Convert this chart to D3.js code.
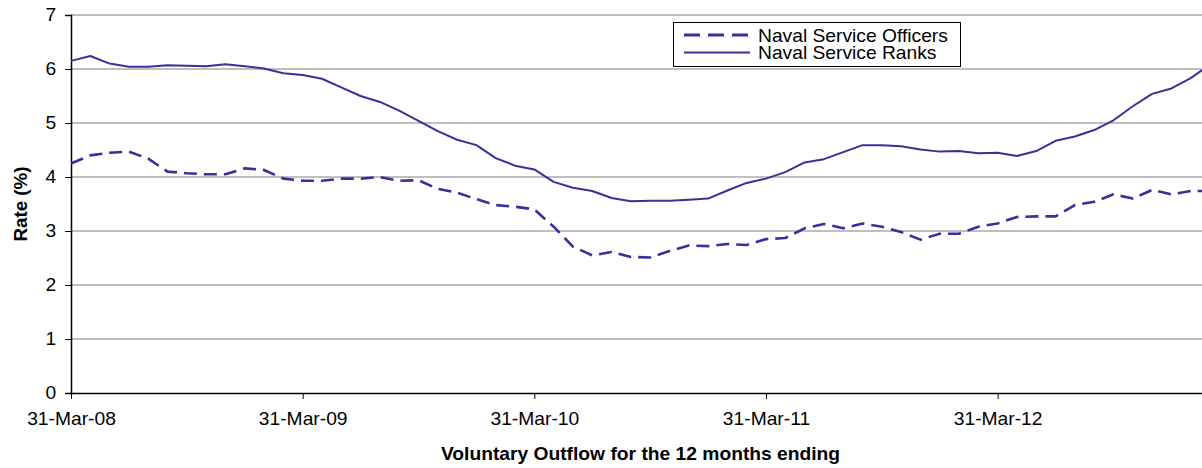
<!DOCTYPE html>
<html>
<head>
<meta charset="utf-8">
<script src="https://cdn.jsdelivr.net/npm/d3@7"></script>
<style>
  body { margin: 0; background: #fff; }
  svg { display: block; font-family: Arial, "Liberation Sans", sans-serif; }
</style>
</head>
<body>
<svg id="chart" width="1202" height="468"></svg>
<script>
// mois (fin de mois), 12 mois glissants
const months = [
  "31-Mar-08","30-Apr-08","31-May-08","30-Jun-08","31-Jul-08","31-Aug-08","30-Sep-08","31-Oct-08","30-Nov-08","31-Dec-08","31-Jan-09","28-Feb-09",
  "31-Mar-09","30-Apr-09","31-May-09","30-Jun-09","31-Jul-09","31-Aug-09","30-Sep-09","31-Oct-09","30-Nov-09","31-Dec-09","31-Jan-10","28-Feb-10",
  "31-Mar-10","30-Apr-10","31-May-10","30-Jun-10","31-Jul-10","31-Aug-10","30-Sep-10","31-Oct-10","30-Nov-10","31-Dec-10","31-Jan-11","28-Feb-11",
  "31-Mar-11","30-Apr-11","31-May-11","30-Jun-11","31-Jul-11","31-Aug-11","30-Sep-11","31-Oct-11","30-Nov-11","31-Dec-11","31-Jan-12","29-Feb-12",
  "31-Mar-12","30-Apr-12","31-May-12","30-Jun-12","31-Jul-12","31-Aug-12","30-Sep-12","31-Oct-12","30-Nov-12","31-Dec-12","31-Jan-13","28-Feb-13"
];

const officers = [
  4.25, 4.40, 4.45, 4.47, 4.34, 4.10, 4.07, 4.05, 4.05, 4.16, 4.13, 3.97,
  3.93, 3.93, 3.97, 3.97, 4.00, 3.93, 3.94, 3.78, 3.71, 3.59, 3.48, 3.45,
  3.40, 3.08, 2.71, 2.55, 2.61, 2.52, 2.51, 2.63, 2.73, 2.72, 2.76, 2.74,
  2.85, 2.87, 3.05, 3.13, 3.05, 3.14, 3.08, 2.98, 2.84, 2.95, 2.95, 3.08,
  3.14, 3.26, 3.27, 3.27, 3.48, 3.54, 3.68, 3.60, 3.76, 3.68, 3.74, 3.74
];

const ranks = [
  6.15, 6.24, 6.10, 6.04, 6.04, 6.07, 6.06, 6.05, 6.09, 6.05, 6.01, 5.92,
  5.89, 5.82, 5.66, 5.50, 5.39, 5.23, 5.04, 4.85, 4.69, 4.59, 4.35, 4.21,
  4.14, 3.91, 3.80, 3.74, 3.61, 3.55, 3.56, 3.56, 3.58, 3.60, 3.75, 3.89,
  3.97, 4.09, 4.27, 4.33, 4.46, 4.59, 4.59, 4.57, 4.51, 4.47, 4.48, 4.44,
  4.45, 4.39, 4.48, 4.67, 4.75, 4.87, 5.05, 5.31, 5.54, 5.64, 5.83, 6.08
];

const tickLabels = ["31-Mar-08", "31-Mar-09", "31-Mar-10", "31-Mar-11", "31-Mar-12"];
const yTicks = [0, 1, 2, 3, 4, 5, 6, 7];

const series = [
  { name: "Naval Service Officers", values: officers, dash: "13,7", width: 2.6 },
  { name: "Naval Service Ranks", values: ranks, dash: null, width: 2 }
];

const lineColor = "#333399";
const sx = 1.1; // étirement horizontal du texte
const fontSize = 17.5;

const svg = d3.select("#chart");
const margin = { top: 15, bottom: 75, left: 71 };
const height = 468;
const plotRight = 1210; // la zone de tracé dépasse un peu la fenêtre

const x = d3.scalePoint().domain(months).range([margin.left, plotRight]);
const y = d3.scaleLinear().domain([0, 7]).range([height - margin.bottom, margin.top]);

// quadrillage
svg.append("g")
  .selectAll("line")
  .data(yTicks.slice(1))
  .enter().append("line")
  .attr("x1", margin.left).attr("x2", plotRight)
  .attr("y1", d => y(d)).attr("y2", d => y(d))
  .attr("stroke", "#808080")
  .attr("stroke-width", 1.2);

// axe Y
const yAxis = svg.append("g")
  .attr("transform", `translate(${margin.left},0)`)
  .call(d3.axisLeft(y).tickValues(yTicks).tickSize(6).tickPadding(7.5).tickFormat(d3.format("d")));
yAxis.select(".domain").attr("stroke", "#000").attr("stroke-width", 1.5);
yAxis.selectAll(".tick line").attr("stroke", "#000");
yAxis.selectAll("text")
  .style("font-size", `${fontSize}px`)
  .attr("fill", "#000")
  .attr("transform", `scale(${sx},1)`);

// axe X
const xAxis = svg.append("g")
  .attr("transform", `translate(0,${y(0)})`)
  .call(d3.axisBottom(x).tickValues(tickLabels).tickSize(6).tickPadding(14).tickSizeOuter(0));
xAxis.select(".domain").attr("stroke", "#000").attr("stroke-width", 1.5);
xAxis.selectAll(".tick line").attr("stroke", "#000");
xAxis.selectAll("text")
  .style("font-size", `${fontSize}px`)
  .attr("fill", "#000")
  .attr("transform", `scale(${sx},1)`);

// courbes
const line = d3.line()
  .x((d, i) => x(months[i]))
  .y(d => y(d));

svg.append("g")
  .selectAll("path")
  .data(series)
  .enter().append("path")
  .attr("d", d => line(d.values))
  .attr("fill", "none")
  .attr("stroke", lineColor)
  .attr("stroke-width", d => d.width)
  .attr("stroke-dasharray", d => d.dash)
  .attr("stroke-linejoin", "round");

// titres des axes
svg.append("text")
  .attr("transform", `translate(${(margin.left + plotRight) / 2},460) scale(${sx},1)`)
  .attr("text-anchor", "middle")
  .style("font-size", `${fontSize}px`)
  .style("font-weight", "bold")
  .text("Voluntary Outflow for the 12 months ending");

svg.append("text")
  .attr("transform", `translate(26.5,${(y(0) + y(7)) / 2}) rotate(-90) scale(1.07,1)`)
  .attr("text-anchor", "middle")
  .style("font-size", `${fontSize}px`)
  .style("font-weight", "bold")
  .text("Rate (%)");

// légende
const legend = svg.append("g").attr("transform", "translate(673.5,22.5)");
legend.append("rect")
  .attr("width", 287).attr("height", 44)
  .attr("fill", "#fff").attr("stroke", "#000").attr("stroke-width", 1);

const item = legend.selectAll(".item")
  .data(series)
  .enter().append("g")
  .attr("class", "item")
  .attr("transform", (d, i) => `translate(0,${12.5 + i * 17.5})`);

item.append("line")
  .attr("x1", 10.5).attr("x2", 76.5)
  .attr("stroke", lineColor)
  .attr("stroke-width", d => d.dash ? 3 : 2)
  .attr("stroke-dasharray", d => d.dash ? "16,8" : null);

item.append("text")
  .attr("transform", `translate(84.5,6.5) scale(${sx},1)`)
  .style("font-size", `${fontSize}px`)
  .text(d => d.name);
</script>
</body>
</html>
